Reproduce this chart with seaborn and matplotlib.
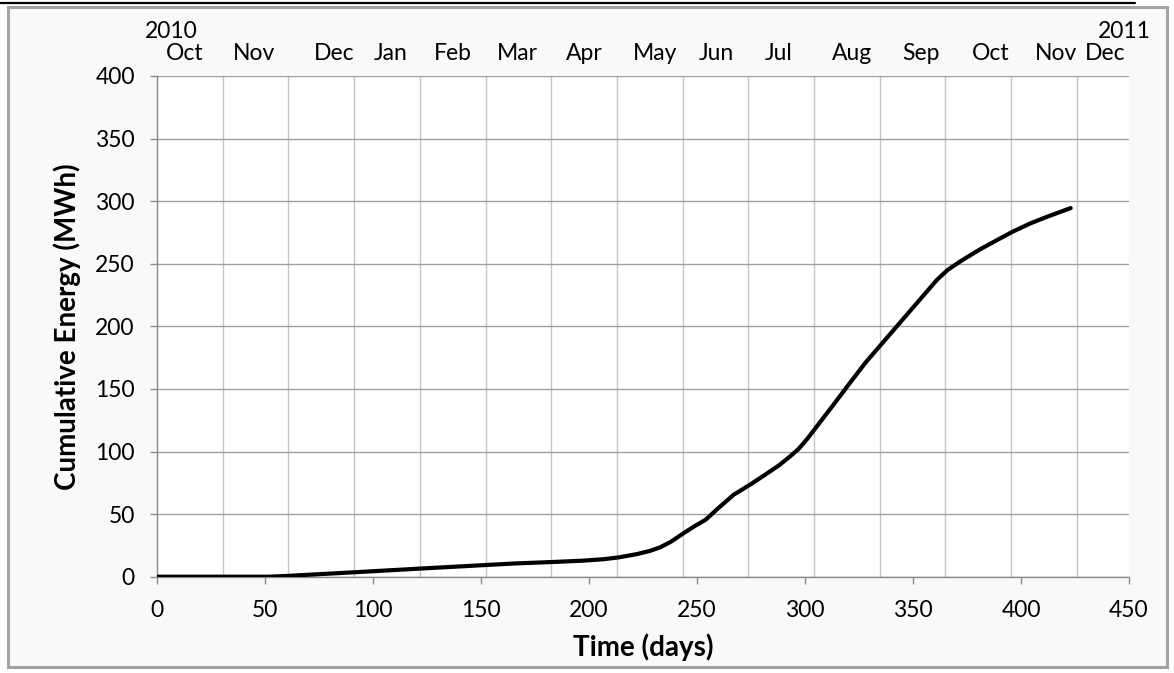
import numpy as np
import pandas as pd
import matplotlib
matplotlib.use("Agg")
import matplotlib.pyplot as plt
from matplotlib.lines import Line2D
from matplotlib.patches import Rectangle
import seaborn as sns

# ---- data ----
days = [0, 52, 60, 77, 92, 123, 153, 166, 184, 197, 207, 214, 222, 228, 233,
        238, 244, 249, 254, 260, 267, 275, 282, 288, 293, 297, 301, 305, 313,
        320, 328, 336, 342, 350, 356, 361, 366, 372, 381, 389, 396, 404, 412,
        423]
energy = [0, 0, 0.6, 2.2, 3.6, 6.6, 9.4, 10.6, 11.8, 12.8, 14, 15.5, 18, 20.5,
          23.5, 28, 35, 40.5, 45.5, 55, 65.5, 74, 82, 89, 96, 102, 110, 119,
          137, 153, 171, 187, 199, 215, 227, 237, 245, 252, 261.5, 269, 275.5,
          282, 287.5, 294.5]

month_labels = ["Oct", "Nov", "Dec", "Jan", "Feb", "Mar", "Apr", "May", "Jun",
                "Jul", "Aug", "Sep", "Oct", "Nov", "Dec"]
month_label_days = [13, 44.7, 82, 108, 137, 167, 198, 230.5, 259, 288, 322,
                    353.7, 386, 416.4, 439]
year_labels = ["2010", "2011"]
year_label_days = [6.5, 448]

x_ticks = [0, 50, 100, 150, 200, 250, 300, 350, 400, 450]
y_ticks = [0, 50, 100, 150, 200, 250, 300, 350, 400]

df = pd.DataFrame({"Time (days)": days, "Cumulative Energy (MWh)": energy})

sns.set_theme(style="white")
plt.rcParams["font.family"] = ["Lato", "DejaVu Sans"]

W, H = 1174, 673
fig = plt.figure(figsize=(W / 100, H / 100), dpi=100, facecolor="white")

# outer frame
fig.add_artist(Rectangle((8 / W, 1 - 667 / H), (1167 - 8) / W, (667 - 7) / H,
                         transform=fig.transFigure, facecolor="#f9f9f9",
                         edgecolor="#a3a3a3", lw=2.2, zorder=-10))
fig.add_artist(Line2D([0, 1135 / W], [1 - 3.0 / H, 1 - 3.0 / H],
                      transform=fig.transFigure, color="black", lw=1.6))

left, right, top, bottom = 157, 1129, 76, 576.7
ax = fig.add_axes([left / W, 1 - bottom / H, (right - left) / W, (bottom - top) / H])
ax.set_facecolor("white")

sns.lineplot(data=df, x="Time (days)", y="Cumulative Energy (MWh)", ax=ax,
             color="black", lw=3.0, zorder=5)

ax.set_xlim(0, 450)
ax.set_ylim(0, 400)
ax.set_xticks(x_ticks)
ax.set_yticks(y_ticks)
ax.set_xticks(np.arange(1, 15) * 365 / 12, minor=True)

ax.grid(False)
ax.yaxis.grid(True, which="major", color="#a0a0a0", lw=1.0)
ax.xaxis.grid(True, which="minor", color="#c4c4c4", lw=1.0)
ax.set_axisbelow(True)

for s in ["top", "right"]:
    ax.spines[s].set_visible(False)
for s in ["left", "bottom"]:
    ax.spines[s].set_color("#8a8a8a")
    ax.spines[s].set_linewidth(1.0)

ax.tick_params(axis="both", which="major", direction="out", length=5,
               width=1.0, color="#8a8a8a", labelsize=16.5, labelcolor="black")
ax.tick_params(axis="x", which="major", pad=12, bottom=True)
ax.tick_params(axis="y", which="major", pad=11, left=True)
ax.tick_params(axis="x", which="minor", length=0)

ax.set_xlabel("Time (days)", fontsize=20, fontweight="bold", color="black")
ax.set_ylabel("Cumulative Energy (MWh)", fontsize=20, fontweight="bold", color="black")
ax.xaxis.set_label_coords(0.5, (bottom - 647) / (bottom - top))
ax.xaxis.label.set_va("center")
ax.yaxis.set_label_coords((67.5 - left) / (right - left), 0.5)
ax.yaxis.label.set_va("center")

tr = ax.get_xaxis_transform()
ph = bottom - top
for lab, d in zip(month_labels, month_label_days):
    ax.text(d, 1 + 16 / ph, lab, transform=tr, ha="center", va="baseline",
            fontsize=16.5, color="black", clip_on=False)
for lab, d in zip(year_labels, year_label_days):
    ax.text(d, 1 + 38 / ph, lab, transform=tr, ha="center", va="baseline",
            fontsize=16.5, color="black", clip_on=False)

fig.savefig("out.png", dpi=100, facecolor=fig.get_facecolor())
